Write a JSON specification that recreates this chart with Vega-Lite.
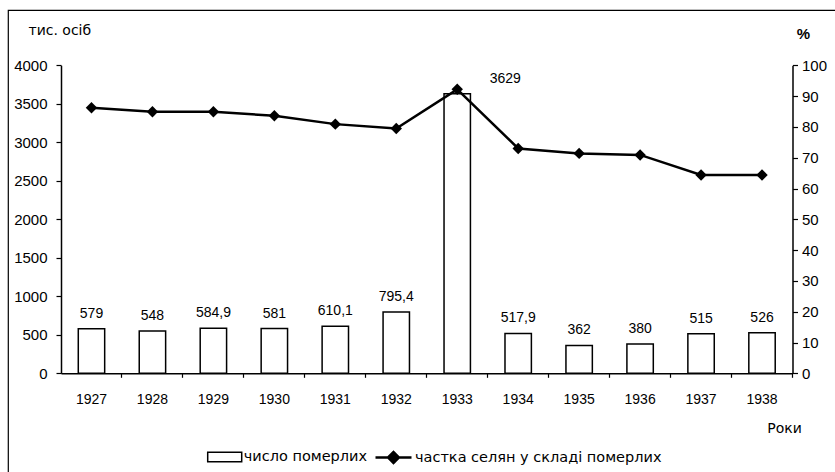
{
  "$schema": "https://vega.github.io/schema/vega-lite/v6.json",
  "width": 827,
  "height": 462,
  "autosize": {"type": "none"},
  "padding": {"left": 8, "top": 10, "right": 0, "bottom": 0},
  "background": "white",
  "config": {
    "font": "Liberation Sans",
    "view": {"stroke": "black", "strokeWidth": 1.2, "strokeDash": [827, 1289, 462, 0], "strokeCap": "butt"},
    "axis": {
      "labelFont": "Liberation Sans",
      "titleFont": "DejaVu Sans",
      "labelColor": "black",
      "titleColor": "black",
      "domainColor": "black",
      "tickColor": "black",
      "domainWidth": 1.5,
      "tickWidth": 1.2,
      "grid": false,
      "titleFontWeight": "normal"
    },
    "legend": {"labelFont": "DejaVu Sans", "labelColor": "black", "labelLimit": 0}
  },
  "data": {
    "values": [
      {"year": "1927", "deaths": 579, "pct": 86.2, "label": "579"},
      {"year": "1928", "deaths": 548, "pct": 84.9, "label": "548"},
      {"year": "1929", "deaths": 584.9, "pct": 84.9, "label": "584,9"},
      {"year": "1930", "deaths": 581, "pct": 83.6, "label": "581"},
      {"year": "1931", "deaths": 610.1, "pct": 80.9, "label": "610,1"},
      {"year": "1932", "deaths": 795.4, "pct": 79.5, "label": "795,4"},
      {"year": "1933", "deaths": 3629, "pct": 92.2, "label": "3629"},
      {"year": "1934", "deaths": 517.9, "pct": 73.0, "label": "517,9"},
      {"year": "1935", "deaths": 362, "pct": 71.4, "label": "362"},
      {"year": "1936", "deaths": 380, "pct": 70.9, "label": "380"},
      {"year": "1937", "deaths": 515, "pct": 64.4, "label": "515"},
      {"year": "1938", "deaths": 526, "pct": 64.4, "label": "526"}
    ]
  },
  "encoding": {
    "x": {
      "field": "year",
      "type": "ordinal",
      "scale": {"range": [53, 784.5], "paddingInner": 0.567, "paddingOuter": 0.2835},
      "axis": {
        "orient": "bottom",
        "offset": -98.7,
        "labelAngle": 0,
        "labelFontSize": 14,
        "tickSize": 4,
        "labelPadding": 15,
        "bandPosition": 1.6545,
        "title": "Роки",
        "titleFontSize": 14,
        "titleX": 776,
        "titleY": 54.7,
        "titleAlign": "center",
        "titleBaseline": "middle"
      }
    }
  },
  "layer": [
    {
      "encoding": {
        "y": {
          "field": "deaths",
          "type": "quantitative",
          "scale": {"domain": [0, 4000], "range": [363.3, 55.3], "nice": false},
          "axis": {
            "orient": "left",
            "offset": -53,
            "values": [0, 500, 1000, 1500, 2000, 2500, 3000, 3500, 4000],
            "format": "d",
            "labelFontSize": 15,
            "tickSize": 5,
            "labelPadding": 9,
            "title": "тис. осіб",
            "titleFontSize": 14,
            "titleAngle": 0,
            "titleX": -33,
            "titleY": 20,
            "titleAlign": "left",
            "titleBaseline": "middle"
          }
        }
      },
      "layer": [
        {
          "mark": {"type": "bar", "stroke": "black", "strokeWidth": 1.5},
          "encoding": {
            "fill": {
              "datum": "число померлих",
              "scale": {"range": ["white"]},
              "legend": {
                "orient": "none",
                "legendX": 198.7,
                "legendY": 429,
                "title": null,
                "padding": 0,
                "symbolType": "M-1,-0.28H1V0.28H-1Z",
                "symbolSize": 1156,
                "symbolStrokeColor": "black",
                "symbolStrokeWidth": 1.5,
                "symbolFillColor": "white",
                "labelFontSize": 14.5,
                "labelOffset": 1
              }
            }
          }
        },
        {
          "transform": [{"filter": "datum.year != '1933'"}],
          "mark": {"type": "text", "fontSize": 14, "baseline": "middle", "dy": -15, "color": "black"},
          "encoding": {"text": {"field": "label"}}
        },
        {
          "transform": [{"filter": "datum.year == '1933'"}],
          "mark": {"type": "text", "fontSize": 14, "baseline": "middle", "dy": -15, "dx": 48, "color": "black"},
          "encoding": {"text": {"field": "label"}}
        }
      ]
    },
    {
      "encoding": {
        "y": {
          "field": "pct",
          "type": "quantitative",
          "scale": {"domain": [0, 100], "range": [363.3, 55.3], "nice": false},
          "axis": {
            "orient": "right",
            "offset": -42.5,
            "values": [0, 10, 20, 30, 40, 50, 60, 70, 80, 90, 100],
            "labelFontSize": 15,
            "tickSize": 5,
            "labelPadding": 4,
            "title": "%",
            "titleFont": "Liberation Sans",
            "titleFontSize": 15,
            "titleFontWeight": "bold",
            "titleAngle": 0,
            "titleX": 10.5,
            "titleY": 23,
            "titleAlign": "center",
            "titleBaseline": "middle"
          }
        }
      },
      "layer": [
        {
          "mark": {"type": "line", "strokeWidth": 2.5},
          "encoding": {
            "stroke": {
              "datum": "частка селян у складі померлих",
              "scale": {"range": ["black"]},
              "legend": {
                "orient": "none",
                "legendX": 366,
                "legendY": 428,
                "title": null,
                "padding": 0,
                "symbolType": "M-1,0H1M-0.3,0L0,-0.3L0.3,0L0,0.3Z",
                "symbolSize": 1296,
                "symbolStrokeWidth": 2.5,
                "symbolFillColor": "black",
                "labelFontSize": 14.5,
                "labelOffset": 2
              }
            }
          }
        },
        {
          "mark": {"type": "point", "shape": "diamond", "filled": true, "size": 130, "color": "black", "opacity": 1}
        }
      ]
    }
  ],
  "resolve": {"scale": {"y": "independent", "fill": "independent", "stroke": "independent"}}
}
